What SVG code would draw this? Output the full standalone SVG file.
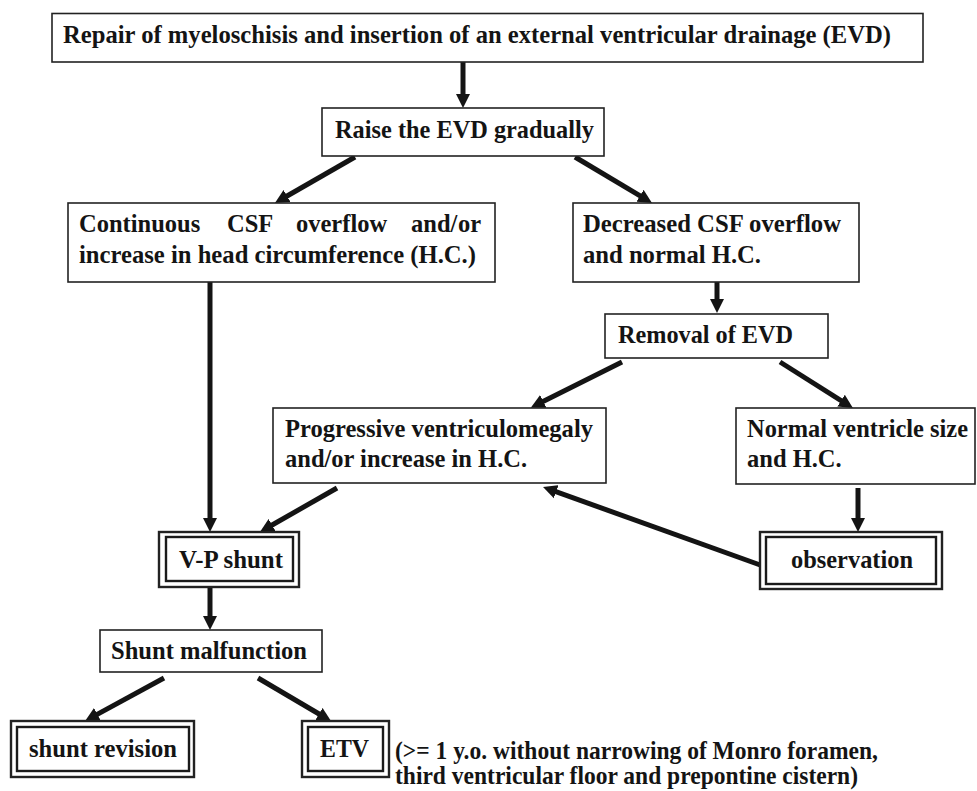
<svg xmlns="http://www.w3.org/2000/svg" width="977" height="791" viewBox="0 0 977 791">
<style>
.box{fill:#fff;stroke:#222;stroke-width:1.6}
.dbl{fill:none;stroke:#1a1a1a;stroke-width:2.4}
.t{font-family:"Liberation Serif","Times New Roman",serif;font-weight:bold;font-size:24.5px;fill:#141414}
.c{stroke:#141414;stroke-width:5;fill:none;marker-end:url(#ah)}
</style>
<defs>
<marker id="ah" markerUnits="userSpaceOnUse" markerWidth="15" markerHeight="15" refX="7" refY="7" orient="auto" viewBox="0 0 15 14">
<path d="M0,0 L14,7 L0,14 z" fill="#141414"/>
</marker>
</defs>
<rect width="977" height="791" fill="#fff"/>
<g id="connectors">
<line class="c" x1="463" y1="62" x2="463" y2="101"/>
<line class="c" x1="355" y1="157" x2="281" y2="199.5"/>
<line class="c" x1="575" y1="157" x2="646" y2="199.4"/>
<line class="c" x1="717" y1="282" x2="717" y2="306"/>
<line class="c" x1="622" y1="362" x2="537" y2="404.5"/>
<line class="c" x1="780" y1="362" x2="847" y2="404.3"/>
<line class="c" x1="858" y1="488" x2="858" y2="525"/>
<line class="c" x1="763" y1="566" x2="549.6" y2="489.4"/>
<line class="c" x1="210" y1="282" x2="210" y2="525"/>
<line class="c" x1="337" y1="488" x2="266" y2="528.5"/>
<line class="c" x1="210" y1="587" x2="210" y2="623"/>
<line class="c" x1="164" y1="678" x2="91.2" y2="717.6"/>
<line class="c" x1="258" y1="678" x2="325" y2="717.5"/>
</g>
<g id="n1">
<rect class="box" x="52" y="13.5" width="871" height="48.5"/>
<text class="t" x="63" y="43" textLength="828" lengthAdjust="spacingAndGlyphs">Repair of myeloschisis and insertion of an external ventricular drainage (EVD)</text>
</g>
<g id="n2">
<rect class="box" x="322" y="108" width="282" height="48"/>
<text class="t" x="335" y="138" textLength="259" lengthAdjust="spacingAndGlyphs">Raise the EVD gradually</text>
</g>
<g id="n3">
<rect class="box" x="68" y="203" width="427" height="79"/>
<text class="t" x="79" y="232">Continuous</text>
<text class="t" x="227" y="232">CSF</text>
<text class="t" x="296" y="232">overflow</text>
<text class="t" x="411" y="232">and/</text>
<text class="t" x="458" y="232">or</text>
<text class="t" x="79" y="263" textLength="397" lengthAdjust="spacingAndGlyphs">increase in head circumference (H.C.)</text>
</g>
<g id="n4">
<rect class="box" x="573" y="203" width="286" height="79"/>
<text class="t" x="583" y="232" textLength="258" lengthAdjust="spacingAndGlyphs">Decreased CSF overflow</text>
<text class="t" x="583" y="263" textLength="178" lengthAdjust="spacingAndGlyphs">and normal H.C.</text>
</g>
<g id="n5">
<rect class="box" x="605" y="314" width="223" height="44"/>
<text class="t" x="618" y="343" textLength="175" lengthAdjust="spacingAndGlyphs">Removal of EVD</text>
</g>
<g id="n6">
<rect class="box" x="273" y="408" width="333" height="75"/>
<text class="t" x="285" y="437" textLength="308" lengthAdjust="spacingAndGlyphs">Progressive ventriculomegaly</text>
<text class="t" x="285" y="467">and/or increase in H.C.</text>
</g>
<g id="n7">
<rect class="box" x="736" y="408" width="239" height="76"/>
<text class="t" x="747" y="437" textLength="221" lengthAdjust="spacingAndGlyphs">Normal ventricle size</text>
<text class="t" x="747" y="467">and H.C.</text>
</g>
<g id="n8">
<rect class="box" x="760" y="532" width="182" height="57" style="stroke-width:2.4"/>
<rect class="dbl" x="766" y="537" width="170" height="47"/>
<text class="t" x="791" y="568" textLength="122" lengthAdjust="spacingAndGlyphs">observation</text>
</g>
<g id="n9">
<rect class="box" x="159" y="532" width="140" height="55" style="stroke-width:2.4"/>
<rect class="dbl" x="166" y="537" width="127" height="44"/>
<text class="t" x="179" y="568" textLength="104" lengthAdjust="spacingAndGlyphs">V-P shunt</text>
</g>
<g id="n10">
<rect class="box" x="100" y="630" width="222" height="42"/>
<text class="t" x="111" y="659" textLength="196" lengthAdjust="spacingAndGlyphs">Shunt malfunction</text>
</g>
<g id="n11">
<rect class="box" x="11" y="721" width="183" height="56" style="stroke-width:2.4"/>
<rect class="dbl" x="17" y="727" width="172" height="44"/>
<text class="t" x="29" y="757" textLength="148" lengthAdjust="spacingAndGlyphs">shunt revision</text>
</g>
<g id="n12">
<rect class="box" x="302" y="721" width="87" height="56" style="stroke-width:2.4"/>
<rect class="dbl" x="308" y="727" width="75" height="44"/>
<text class="t" x="320" y="757" textLength="49" lengthAdjust="spacingAndGlyphs">ETV</text>
</g>
<g id="note">
<text class="t" x="395" y="759" textLength="483" lengthAdjust="spacingAndGlyphs">(&gt;= 1 y.o. without narrowing of Monro foramen,</text>
<text class="t" x="395" y="784" textLength="463" lengthAdjust="spacingAndGlyphs">third ventricular floor and prepontine cistern)</text>
</g>
</svg>
